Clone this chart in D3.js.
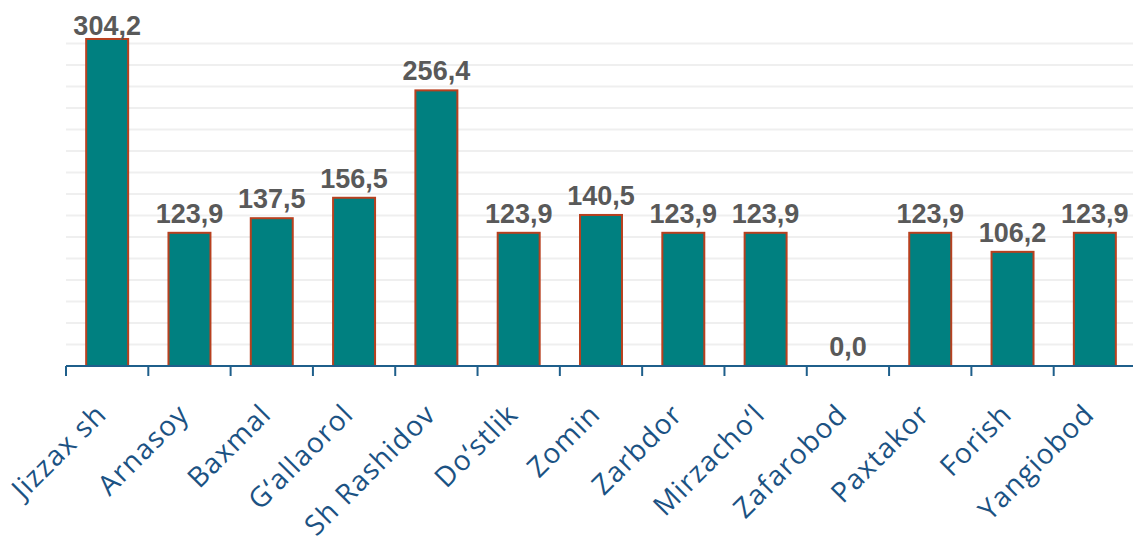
<!DOCTYPE html>
<html>
<head>
<meta charset="utf-8">
<script src="https://d3js.org/d3.v7.min.js"></script>
<style>
  body { margin: 0; background: #fff; }
</style>
</head>
<body>
<svg width="1133" height="542"></svg>
<script>
var categories = ["Jizzax sh", "Arnasoy", "Baxmal", "G\u2018allaorol", "Sh Rashidov", "Do\u2018stlik", "Zomin",
                  "Zarbdor", "Mirzacho\u2018l", "Zafarobod", "Paxtakor", "Forish", "Yangiobod"];
var values = [304.2, 123.9, 137.5, 156.5, 256.4, 123.9, 140.5, 123.9, 123.9, 0.0, 123.9, 106.2, 123.9];
var gridTicks = [20, 40, 60, 80, 100, 120, 140, 160, 180, 200, 220, 240, 260, 280, 300];

var svg = d3.select("svg");
var baseY = 366;

var x = d3.scaleBand()
    .domain(categories)
    .range([66, 1136])
    .paddingInner(0.49)
    .paddingOuter(0.245);

var y = d3.scaleLinear()
    .domain([0, 320])
    .range([baseY, baseY - 320 * 1.075]);

// gridlines
svg.append("g").selectAll("line")
    .data(gridTicks)
    .enter().append("line")
    .attr("x1", 66).attr("x2", 1133)
    .attr("y1", d => y(d)).attr("y2", d => y(d))
    .attr("stroke", "#efefef")
    .attr("stroke-width", 2);

// bars
svg.append("g").selectAll("rect")
    .data(values)
    .enter().append("rect")
    .attr("x", (d, i) => x(categories[i]))
    .attr("width", x.bandwidth())
    .attr("y", d => y(d))
    .attr("height", d => baseY - y(d))
    .attr("fill", "#008080")
    .attr("stroke", d => d > 0 ? "#b8401f" : "none")
    .attr("stroke-width", 2);

// value labels
svg.append("g").selectAll("text")
    .data(values)
    .enter().append("text")
    .attr("x", (d, i) => x(categories[i]) + x.bandwidth() / 2)
    .attr("y", d => Math.max(y(d) - 10, 35))
    .attr("text-anchor", "middle")
    .style("font-family", "'Liberation Sans', Arial, sans-serif")
    .style("font-weight", "bold")
    .style("font-size", "27px")
    .attr("fill", "#595959")
    .text(d => d.toFixed(1).replace(".", ","));

// x axis
var axisColor = "#1f5f8b";
svg.append("line")
    .attr("x1", 66).attr("x2", 1133)
    .attr("y1", baseY).attr("y2", baseY)
    .attr("stroke", axisColor).attr("stroke-width", 2);

var step = x.step();
svg.append("g").selectAll("line")
    .data(d3.range(categories.length + 1))
    .enter().append("line")
    .attr("x1", i => 66 + i * step).attr("x2", i => 66 + i * step)
    .attr("y1", baseY).attr("y2", baseY + 10)
    .attr("stroke", axisColor).attr("stroke-width", 2);

svg.append("g").selectAll("text")
    .data(categories)
    .enter().append("text")
    .attr("transform", d => "translate(" + (x(d) + x.bandwidth() / 2 + 1) + "," + (baseY + 50) + ") rotate(-45)")
    .attr("text-anchor", "end")
    .style("font-family", "'Open Sans', sans-serif")
    .style("font-size", "28px")
    .style("letter-spacing", "1.2px")
    .attr("fill", "#1b5283")
    .text(d => d);
</script>
</body>
</html>
